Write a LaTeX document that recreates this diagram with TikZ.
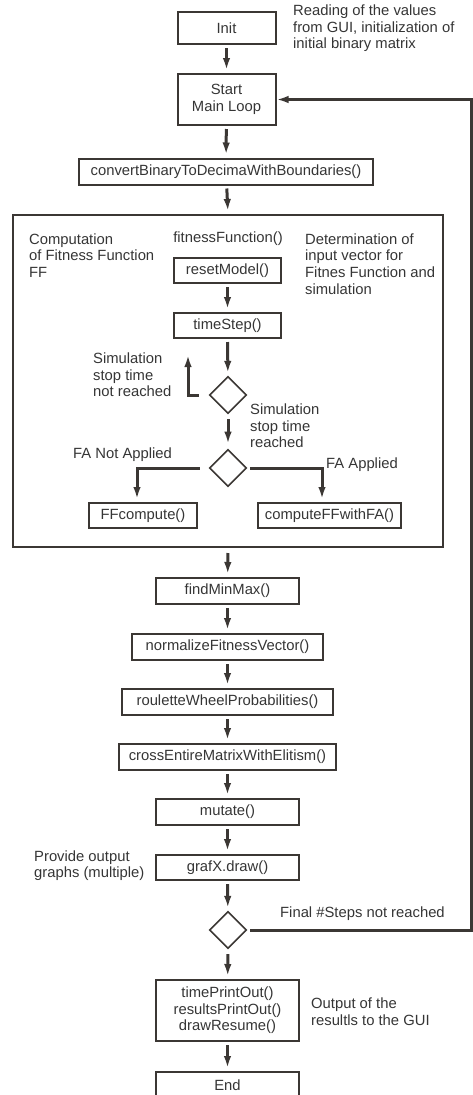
\documentclass[tikz,border=0pt]{standalone}
\usepackage{fontspec}
\setmainfont{Liberation Sans}
\usepackage{xcolor}
\definecolor{cLine}{HTML}{3B3734}
\definecolor{cText}{HTML}{353535}
\usepackage{tikz}
\usetikzlibrary{positioning,arrows.meta,shapes.geometric,calc}
\tikzset{
  txt/.style={font=\fontsize{14.8pt}{16.6pt}\selectfont,text=cText},
  node-box/.style={txt,draw=cLine,line width=2pt,inner sep=0pt,
    minimum height=26pt,align=center},
  node-frame/.style={draw=cLine,line width=2pt,inner sep=0pt},
  node-dec/.style={draw=cLine,diamond,line width=1.6pt,inner sep=0pt,
    minimum width=37pt,minimum height=37pt},
  note/.style={txt,inner sep=0pt,anchor=west,align=left},
  arrow/.style={draw=cLine,line width=3pt,shorten <=3pt,shorten >=3pt,
    -{Latex[length=12pt 0 0,width=7.5pt 0 0]}},
}

\begin{document}
\begin{tikzpicture}[x=1pt,y=-1pt]
  \useasboundingbox (0,0) rectangle (473,1095);
  % main column
  \node[node-box,minimum width=98pt,minimum height=32pt] (init) at (226.5,28) {Init};
  \node[node-box,minimum width=98pt,minimum height=51pt] (start) at (226.5,99.5) {Start\\Main Loop};
  \node[node-box,minimum width=294pt] (conv) at (226,171.5) {convertBinaryToDecimaWithBoundaries()};
  \node[node-frame,minimum width=430pt,minimum height=332pt] (ffbox) at (228,381) {};
  \node[note,anchor=center] (fitfn) at (228,239) {fitnessFunction()};
  \node[node-box,minimum width=107pt,minimum height=25pt] (reset) at (227.5,270.5) {resetModel()};
  \node[node-box,minimum width=107pt,minimum height=25pt] (tstep) at (227.5,325.5) {timeStep()};
  \node[node-dec] (simdec) at (228,395) {};
  \node[node-dec] (fadec) at (228,468) {};
  \node[node-box,minimum width=108pt,minimum height=25pt] (ffc) at (143,515.5) {FFcompute()};
  \node[node-box,minimum width=143pt,minimum height=25pt] (ffa) at (329.5,515.5) {computeFFwithFA()};
  \node[node-box,minimum width=143pt] (minmax) at (227.5,591) {findMinMax()};
  \node[node-box,minimum width=191pt] (norm) at (227.5,647) {normalizeFitnessVector()};
  \node[node-box,minimum width=211pt] (roul) at (227.5,702) {rouletteWheelProbabilities()};
  \node[node-box,minimum width=217pt] (cross) at (227.5,757) {crossEntireMatrixWithElitism()};
  \node[node-box,minimum width=143pt] (mut) at (227.5,812) {mutate()};
  \node[node-box,minimum width=143pt,minimum height=25pt] (graf) at (227.5,867.5) {grafX.draw()};
  \node[node-dec] (stepdec) at (228,930) {};
  \node[node-box,minimum width=143pt,minimum height=61pt] (out) at (227.5,1010.5)
    {timePrintOut()\\resultsPrintOut()\\drawResume()};
  \node[node-box,minimum width=143pt] (fin) at (227.5,1085) {End};
  % notes
  \node[note] (n-init) at (293,28.5) {Reading of the values\\from GUI, initialization of\\initial binary matrix};
  \node[note] (n-comp) at (29,255.6) {Computation\\of Fitness Function\\FF};
  \node[note] (n-det) at (305,264) {Determination of\\input vector for\\Fitnes Function and\\simulation};
  \node[note] (n-notr) at (93,375) {Simulation\\stop time\\not reached};
  \node[note] (n-reach) at (250,426) {Simulation\\stop time\\reached};
  \node[note] (n-fano) at (73,455) {FA Not Applied};
  \node[note] (n-fa) at (326,465) {FA Applied};
  \node[note] (n-graf) at (34,865.5) {Provide output\\graphs (multiple)};
  \node[note] (n-steps) at (280,914) {Final \#Steps not reached};
  \node[note] (n-out) at (311,1011.5) {Output of the\\resultls to the GUI};
  \coordinate (simup) at (188,355);
  \coordinate (loopr) at (471,99.5);
  % connectors
  \draw[arrow] (init) -- (start);
  \draw[arrow] (start) -- (conv);
  \draw[arrow] (conv) -- (ffbox.north);
  \draw[arrow] (reset) -- (tstep);
  \draw[arrow] (tstep) -- (simdec);
  \draw[arrow,shorten <=10pt,shorten >=0pt] (simdec.west) -| (simup);
  \draw[arrow,shorten <=5pt,shorten >=5pt] (simdec) -- (fadec);
  \draw[arrow,shorten <=9pt] (fadec.west) -| ([xshift=-6pt]ffc.north);
  \draw[arrow] (fadec.east) -| ([xshift=-7.5pt]ffa.north);
  \draw[arrow,shorten <=5pt] (ffbox.south) -- (minmax);
  \draw[arrow] (minmax) -- (norm);
  \draw[arrow] (norm) -- (roul);
  \draw[arrow] (roul) -- (cross);
  \draw[arrow] (cross) -- (mut);
  \draw[arrow] (mut) -- (graf);
  \draw[arrow] (graf) -- (stepdec);
  \draw[arrow,shorten >=0pt] (stepdec.east) -| (loopr) -- (start.east);
  \draw[arrow,shorten <=5pt] (stepdec) -- (out);
  \draw[arrow] (out) -- (fin);
\end{tikzpicture}
\end{document}
